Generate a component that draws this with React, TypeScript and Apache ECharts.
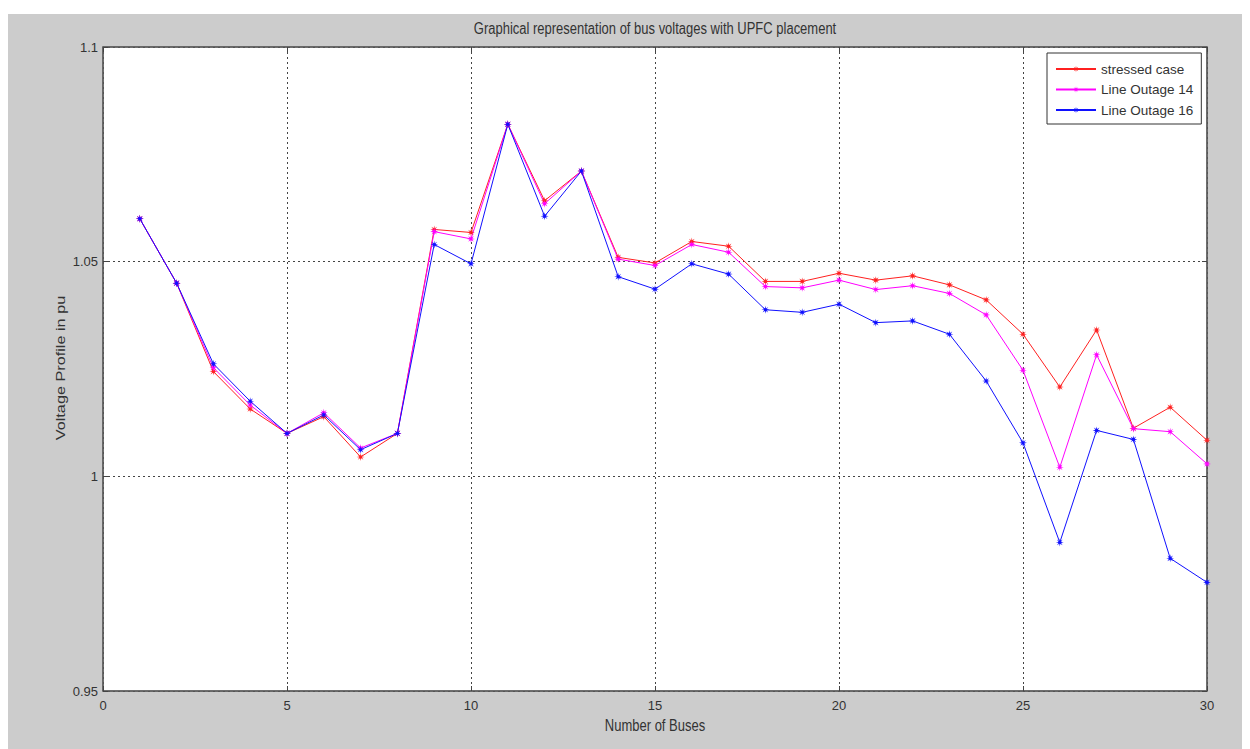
import React, { useEffect, useRef } from "react";
import * as echarts from "echarts";

const buses = [1, 2, 3, 4, 5, 6, 7, 8, 9, 10, 11, 12, 13, 14, 15, 16, 17, 18, 19, 20, 21, 22, 23, 24, 25, 26, 27, 28, 29, 30];
const stressedCase = [1.060, 1.045, 1.0244, 1.0157, 1.010, 1.0139, 1.0045, 1.010, 1.0575, 1.0568, 1.082, 1.0642, 1.0711, 1.051, 1.0497, 1.0547, 1.0536, 1.0454, 1.0454, 1.0473, 1.0457, 1.0467, 1.0446, 1.0411, 1.0331, 1.0208, 1.0341, 1.0112, 1.0161, 1.0084];
const lineOutage14 = [1.060, 1.045, 1.0253, 1.0166, 1.010, 1.0148, 1.0066, 1.010, 1.057, 1.0553, 1.082, 1.0635, 1.0711, 1.0506, 1.0491, 1.054, 1.0522, 1.0442, 1.0439, 1.0457, 1.0435, 1.0444, 1.0426, 1.0376, 1.0247, 1.0021, 1.0283, 1.0111, 1.0104, 1.0029];
const lineOutage16 = [1.060, 1.045, 1.0262, 1.0175, 1.010, 1.0143, 1.0062, 1.010, 1.054, 1.0495, 1.082, 1.0606, 1.0711, 1.0465, 1.0436, 1.0495, 1.0471, 1.0388, 1.0382, 1.0401, 1.0358, 1.0362, 1.0331, 1.0222, 1.0078, 0.9846, 1.0107, 1.0086, 0.9809, 0.9753];
const seriesNames = ["stressed case", "Line Outage 14", "Line Outage 16"];
const yTickLabels = ["0.95", "1", "1.05", "1.1"];

const FONT = "'Liberation Sans Narrow', 'Arial Narrow', 'Liberation Sans', Arial, sans-serif";

function starPath(): string {
  const pts: string[] = [];
  for (let k = 0; k < 16; k++) {
    const a = (k * Math.PI) / 8 - Math.PI / 2;
    const r = k % 2 === 0 ? 10 : 3.5;
    pts.push(`${(k === 0 ? "M" : "L")}${(r * Math.cos(a)).toFixed(2)},${(r * Math.sin(a)).toFixed(2)}`);
  }
  return "path://" + pts.join("") + "Z";
}

export default function App() {
  const ref = useRef<HTMLDivElement>(null);
  useEffect(() => {
    if (!ref.current) return;
    const chart = echarts.init(ref.current, undefined, { renderer: "svg" });
    const star = starPath();
    const mk = (name: string, vals: number[], color: string) => ({
      name,
      type: "line",
      data: buses.map((b, i) => [b, vals[i]]),
      symbol: star,
      symbolSize: 8,
      showSymbol: true,
      lineStyle: { color, width: 1 },
      itemStyle: { color },
      emphasis: { disabled: true },
    });
    const axisLineStyle = { lineStyle: { color: "#5a5a5a", width: 1.5 } };
    const tickStyle = { show: true, inside: true, length: 5, lineStyle: { color: "#444", width: 1 } };
    const textBase = { fontFamily: FONT, fill: "#333", align: "center", verticalAlign: "middle" };
    chart.setOption({
      animation: false,
      backgroundColor: "#cccccc",
      grid: {
        left: 95,
        right: 43,
        top: 33,
        bottom: 58,
        show: true,
        backgroundColor: "#ffffff",
        borderColor: "#5a5a5a",
        borderWidth: 1,
      },
      legend: {
        data: seriesNames,
        orient: "vertical",
        left: 1039,
        top: 39,
        padding: [9, 8, 7, 8],
        itemWidth: 40,
        itemHeight: 8,
        itemGap: 6.5,
        backgroundColor: "#ffffff",
        borderColor: "#333",
        borderWidth: 1,
        borderRadius: 0,
        textStyle: { fontFamily: FONT, fontSize: 13.5, color: "#333" },
      },
      xAxis: [
        {
          type: "value",
          min: 0,
          max: 30,
          interval: 5,
          axisLine: { show: true, onZero: false, ...axisLineStyle },
          axisTick: tickStyle,
          axisLabel: { margin: 8, color: "#333", fontFamily: FONT, fontSize: 13 },
          splitLine: { show: true, lineStyle: { color: "#444", type: [2, 3], width: 1 } },
        },
        {
          type: "value",
          position: "top",
          min: 0,
          max: 30,
          interval: 5,
          axisLine: { show: true, onZero: false, ...axisLineStyle },
          axisTick: tickStyle,
          axisLabel: { show: false },
          splitLine: { show: false },
        },
      ],
      yAxis: [
        {
          type: "value",
          min: 0.95,
          max: 1.1,
          interval: 0.05,
          axisLine: { show: true, onZero: false, ...axisLineStyle },
          axisTick: tickStyle,
          axisLabel: {
            margin: 5,
            color: "#333",
            fontFamily: FONT,
            fontSize: 13,
            formatter: (v: number) => yTickLabels[Math.round((v - 0.95) / 0.05)] ?? "",
          },
          splitLine: { show: true, lineStyle: { color: "#444", type: [2, 3], width: 1 } },
        },
        {
          type: "value",
          position: "right",
          min: 0.95,
          max: 1.1,
          interval: 0.05,
          axisLine: { show: true, onZero: false, ...axisLineStyle },
          axisTick: tickStyle,
          axisLabel: { show: false },
          splitLine: { show: false },
        },
      ],
      graphic: [
        {
          type: "text",
          x: 647,
          y: 14,
          scaleY: 1.25,
          style: { ...textBase, text: "Graphical representation of bus voltages with UPFC placement", fontSize: 13 },
        },
        {
          type: "text",
          x: 647,
          y: 711,
          scaleY: 1.25,
          style: { ...textBase, text: "Number of Buses", fontSize: 13 },
        },
        {
          type: "text",
          x: 53,
          y: 354,
          rotation: Math.PI / 2,
          scaleX: 1.25,
          style: { ...textBase, text: "Voltage Profile in pu", fontSize: 13 },
        },
      ],
      series: [
        mk(seriesNames[0], stressedCase, "#ff2020"),
        mk(seriesNames[1], lineOutage14, "#ff00ff"),
        mk(seriesNames[2], lineOutage16, "#1010ff"),
      ],
    });
    return () => chart.dispose();
  }, []);
  return <div ref={ref} style={{ width: 1242, height: 735, marginTop: 6 }} />;
}
